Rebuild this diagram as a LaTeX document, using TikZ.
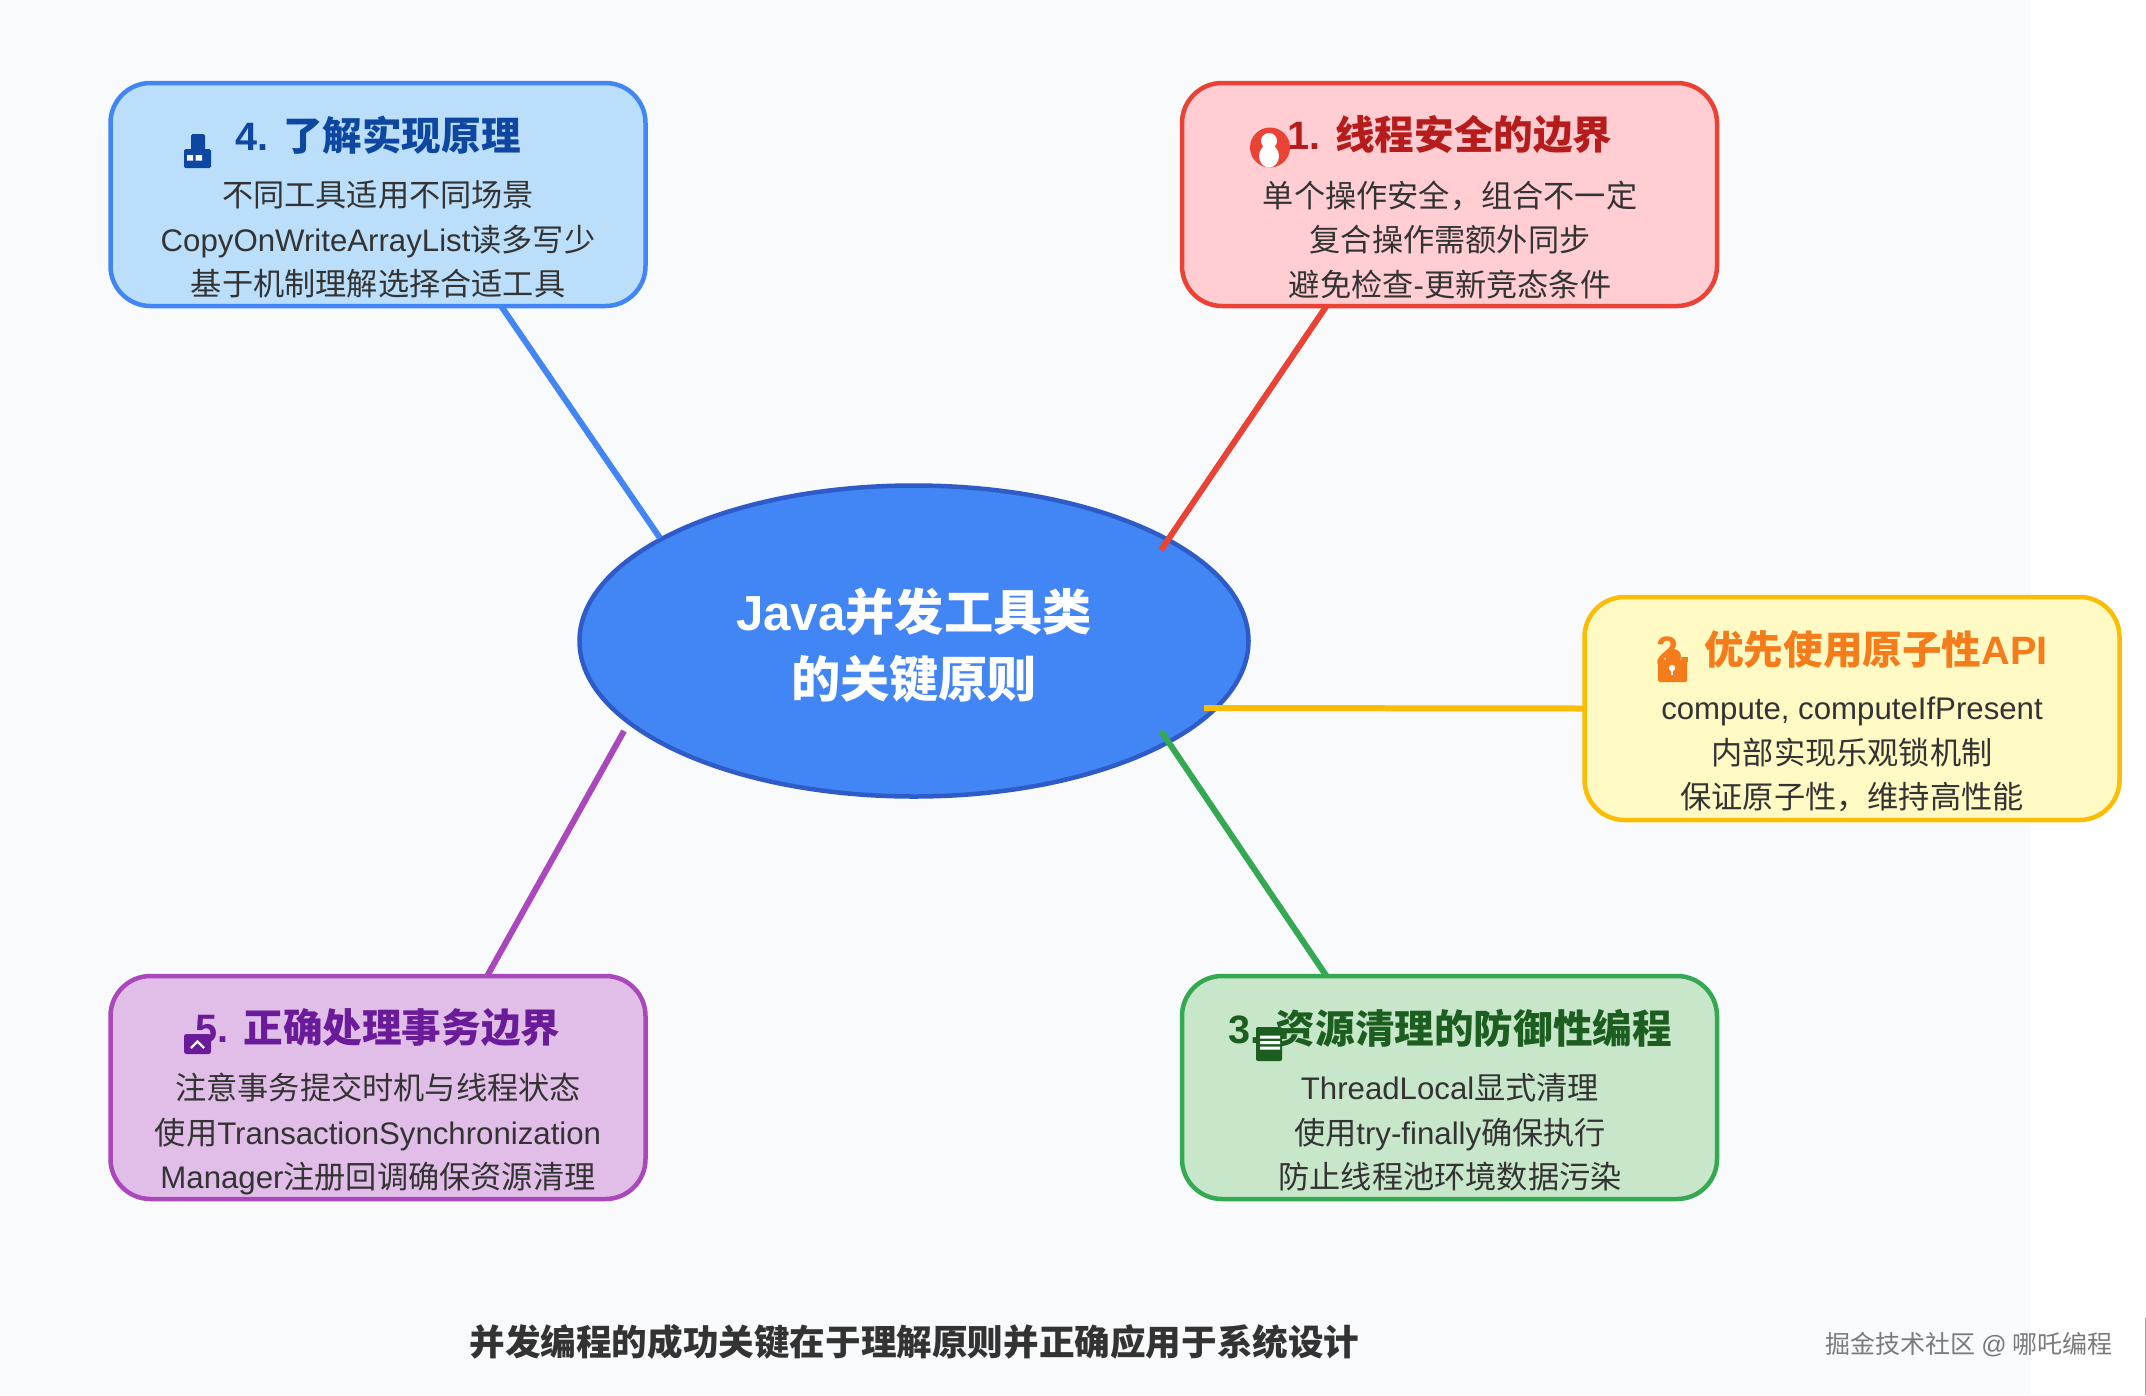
\documentclass[tikz,border=0pt]{standalone}
\usepackage{fontspec}
\usetikzlibrary{calc,shapes.geometric}
\setmainfont{Noto Sans CJK SC}
\newfontfamily\latf{Liberation Sans}
\newcommand{\lat}[1]{{\latf #1}}
\definecolor{pagebg}{HTML}{F8FAFC}
\definecolor{bodyink}{HTML}{333333}
\definecolor{blueS}{HTML}{4285F4}\definecolor{blueF}{HTML}{BBDEFB}\definecolor{blueT}{HTML}{0D47A1}
\definecolor{redS}{HTML}{EA4335}\definecolor{redF}{HTML}{FFCDD2}\definecolor{redT}{HTML}{B71C1C}
\definecolor{yelS}{HTML}{FBBC04}\definecolor{yelF}{HTML}{FFF9C4}\definecolor{yelT}{HTML}{F57C1A}
\definecolor{greS}{HTML}{34A853}\definecolor{greF}{HTML}{C8E6C9}\definecolor{greT}{HTML}{1B5E20}
\definecolor{purS}{HTML}{AB47BC}\definecolor{purF}{HTML}{E1BEE7}\definecolor{purT}{HTML}{6A1B9A}
\definecolor{hubS}{HTML}{2F5BC8}
\tikzset{
  card/.style={draw,line width=4.5pt,rounded corners=40pt,minimum width=535pt,minimum height=223pt,outer sep=0pt,inner sep=0pt},
  cardtitle/.style={font=\fontsize{39.6}{44}\selectfont\bfseries,inner sep=0pt,anchor=center},
  cardbody/.style={font=\fontsize{31.2}{44.5}\selectfont,text=bodyink,align=center,inner sep=0pt,anchor=center},
  link/.style={line width=6pt},
}
\begin{document}
\begin{tikzpicture}[x=1pt,y=-1pt]
\useasboundingbox (0,0) rectangle (2146,1395);
\fill[pagebg] (0,0) rectangle (2031,1395);
\fill[black!35] (2144.5,1318) rectangle (2146,1395);

\node[draw=hubS,fill=blueS,line width=4.5pt,ellipse,minimum width=669pt,minimum height=311pt,inner sep=0pt,outer sep=0pt] (hub) at (914,641) {};
\node[font=\fontsize{49.2}{67}\selectfont\bfseries,text=white,align=center,inner sep=0pt] (hubtext) at (914,645) {\lat{Java}并发工具类\\的关键原则};

\node[card,draw=blueS,fill=blueF] (b4) at (378,194.5) {};
\node[card,draw=redS,fill=redF] (b1) at (1449.5,194.5) {};
\node[card,draw=yelS,fill=yelF] (b2) at (1852,708.5) {};
\node[card,draw=greS,fill=greF] (b3) at (1449.5,1087.5) {};
\node[card,draw=purS,fill=purF] (b5) at (378,1087.5) {};

\draw[link,draw=blueS] ($(b4.south west)!0.73!(b4.south east)$) -- ($(hub.center)+(-254,-103)$);
\draw[link,draw=redS] ($(b1.south west)!0.27!(b1.south east)$) -- ($(hub.center)+(247,-91)$);
\draw[link,draw=yelS] (b2.west) -- ($(hub.center)+(290,67)$);
\draw[link,draw=greS] ($(b3.north west)!0.27!(b3.north east)$) -- ($(hub.center)+(247,90)$);
\draw[link,draw=purS] ($(b5.north west)!0.704!(b5.north east)$) -- ($(hub.center)+(-290,90)$);

\node[cardtitle,text=blueT] (t4) at (378,135) {\lat{4. }了解实现原理};
\node[cardbody] (d4) at (378,239.5) {不同工具适用不同场景\\\lat{CopyOnWriteArrayList}读多写少\\基于机制理解选择合适工具};

\node[cardtitle,text=redT] (t1) at (1450,135) {\lat{1. }线程安全的边界};
\node[cardbody] (d1) at (1450,239.5) {单个操作安全，组合不一定\\复合操作需额外同步\\避免检查\lat{-}更新竞态条件};

\node[cardtitle,text=yelT] (t2) at (1852,649.5) {\lat{2. }优先使用原子性\lat{API}};
\node[cardbody] (d2) at (1852,754.5) {\lat{compute, computeIfPresent}\\内部实现乐观锁机制\\保证原子性，维持高性能};

\node[cardtitle,text=greT] (t3) at (1450,1028) {\lat{3. }资源清理的防御性编程};
\node[cardbody] (d3) at (1450,1132.5) {\lat{ThreadLocal}显式清理\\使用\lat{try-finally}确保执行\\防止线程池环境数据污染};

\node[cardtitle,text=purT] (t5) at (378,1028) {\lat{5. }正确处理事务边界};
\node[cardbody] (d5) at (378,1134) {注意事务提交时机与线程状态\\使用\lat{TransactionSynchronization}\\\lat{Manager}注册回调确保资源清理};

% icons drawn over the titles
% building
\fill[blueT,rounded corners=1.5pt] (191,134) rectangle (205,150);
\fill[blueT,rounded corners=1.5pt] (184,149) rectangle (211,168);
\fill[white] (187,155) rectangle (193,160.5) (195.5,155) rectangle (202,160.5);
% red badge
\fill[redS] (1270,147.5) ellipse [x radius=20,y radius=20];
\fill[white] (1269,141) circle [radius=8] (1269,156) ellipse [x radius=10,y radius=11.5];
% padlock
\fill[yelT,rounded corners=1.5pt] (1658,660) rectangle (1687,682);
\fill[yelT] (1673,656) ellipse [x radius=8,y radius=7];
\fill[yelT] (1681,657) rectangle (1688,662);
\fill[white] (1672,668) circle [radius=3.2];
\fill[white] (1670.7,668) rectangle (1673.3,675);
% document
\fill[greT,rounded corners=2pt] (1256,1027) rectangle (1282,1061);
\fill[white] (1260,1035.5) rectangle (1280,1038.5) (1260,1041) rectangle (1280,1044) (1260,1046.5) rectangle (1280,1049.5);
% chevron box
\fill[purT,rounded corners=2.5pt] (184,1034) rectangle (211,1054);
\draw[white,line width=2.2pt] (191,1048) -- (197.5,1041.5) -- (204,1048);

\node[font=\fontsize{35.6}{40}\selectfont\bfseries,text=bodyink,inner sep=0pt] (foot) at (914.5,1342) {并发编程的成功关键在于理解原则并正确应用于系统设计};
\node[font=\fontsize{25}{30}\selectfont,text=black!52,inner sep=0pt] (mark) at (1969,1345) {掘金技术社区 \lat{@} 哪吒编程};
\end{tikzpicture}
\end{document}
